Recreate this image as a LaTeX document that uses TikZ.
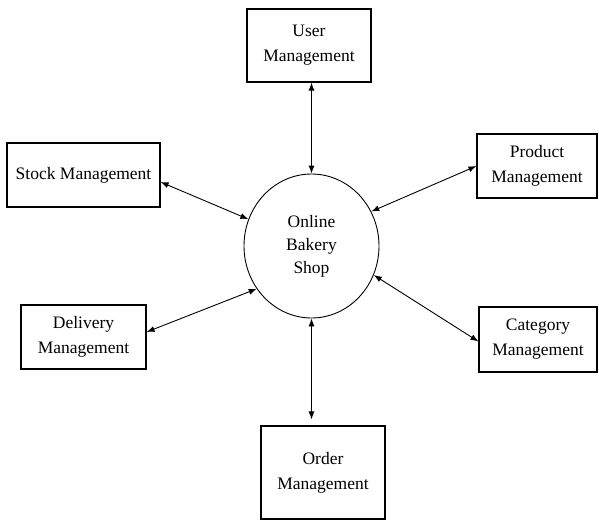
\documentclass[tikz,border=0pt]{standalone}
\usepackage{fontspec}
\setmainfont{Liberation Serif}
\usetikzlibrary{arrows.meta,shapes.geometric}
\begin{document}
\begin{tikzpicture}[x=1pt,y=-1pt,
  box/.style={draw, line width=1.1pt, inner sep=0pt, align=center,
    font=\fontsize{17.5}{25}\selectfont},
  link/.style={line width=0.9pt, {Latex[length=8pt,width=6pt]}-{Latex[length=8pt,width=6pt]}}]
\useasboundingbox (0,0) rectangle (599,520);
\node[box, minimum width=124pt, minimum height=73pt] (user) at (309,45.5) {User\\Management};
\node[box, minimum width=153pt, minimum height=64pt] (stock) at (83.5,175) {Stock Management};
\node[box, minimum width=120pt, minimum height=64pt] (product) at (537,166) {Product\\Management};
\node[box, minimum width=125pt, minimum height=64pt] (delivery) at (83.5,337) {Delivery\\Management};
\node[box, minimum width=118pt, minimum height=65pt] (category) at (538,339.5) {Category\\Management};
\node[box, minimum width=124pt, minimum height=93pt] (order) at (323,472.5) {Order\\Management};
\node[ellipse, draw, line width=0.9pt, minimum width=135pt, minimum height=144pt, inner sep=0pt,
  align=center, font=\fontsize{17.5}{23}\selectfont] (circ) at (311.5,246) {Online\\Bakery\\Shop};
\draw[link] (circ.north) -- (circ.north |- user.south);
\draw[link] ([yshift=-7pt]stock.east) -- (circ.157);
\draw[link] (product.west) -- (circ.30);
\draw[link] ([yshift=5pt]delivery.east) -- (circ.218);
\draw[link] ([yshift=-2pt]category.west) -- (circ.335);
\draw[link, shorten >=6pt] (circ.south) -- (circ.south |- order.north);
\end{tikzpicture}
\end{document}
